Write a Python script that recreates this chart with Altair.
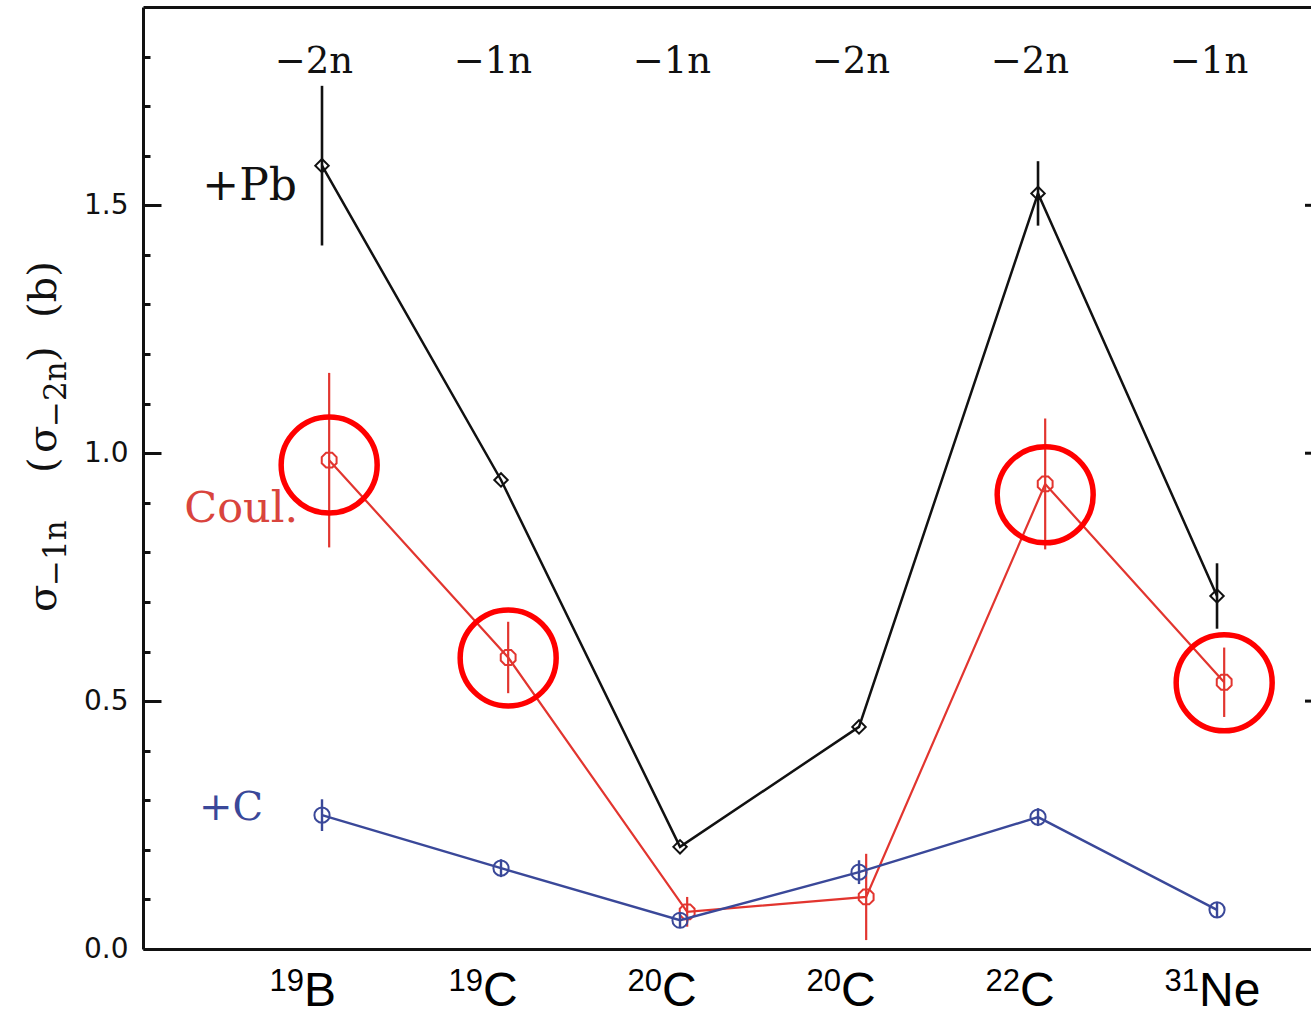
import altair as alt
import pandas as pd

# ---------------- data ----------------
categories   = ["19B", "19C", "20C", "20C", "22C", "31Ne"]
mass_numbers = ["19", "19", "20", "20", "22", "31"]
elements     = ["B", "C", "C", "C", "C", "Ne"]
channels     = ["−2n", "−1n", "−1n", "−2n", "−2n", "−1n"]

pb_values   = [1.580, 0.946, 0.206, 0.448, 1.524, 0.712]
pb_errors   = [0.161, 0.0, 0.0, 0.0, 0.065, 0.066]
coul_values = [0.986, 0.588, 0.075, 0.105, 0.938, 0.538]
coul_errors = [0.176, 0.072, 0.030, 0.087, 0.132, 0.070]
c_values    = [0.270, 0.163, 0.058, 0.155, 0.266, 0.079]
c_errors    = [0.032, 0.018, 0.015, 0.024, 0.018, 0.015]

circled        = [True, True, False, False, True, True]
circle_centers = [0.976, 0.587, 0.0, 0.0, 0.916, 0.537]

series_names = ["+Pb", "Coul.", "+C"]

y_tick_values  = [0.0, 0.1, 0.2, 0.3, 0.4, 0.5, 0.6, 0.7, 0.8, 0.9,
                  1.0, 1.1, 1.2, 1.3, 1.4, 1.5, 1.6, 1.7, 1.8]
y_label_values = [0.0, 0.5, 1.0, 1.5]
right_tick_values = [0.5, 1.0, 1.5]

# ---------------- styling ----------------
W, H = 1168, 942
COUL_SHIFT = 0.04
BLACK = "#111111"
RED = "#e2352f"
RED_TXT = "#d9443d"
BLUE = "#3a4899"
HL = "#ff0000"
SERIF = "DejaVu Serif"
SANS = "Liberation Sans"
OCTAGON = "M-0.4142,-1L0.4142,-1L1,-0.4142L1,0.4142L0.4142,1L-0.4142,1L-1,0.4142L-1,-0.4142Z"

idx = list(range(len(categories)))


def series_df(vals, errs, shift=0.0):
    return pd.DataFrame({
        "x": [i + shift for i in idx],
        "y": vals,
        "lo": [v - e for v, e in zip(vals, errs)],
        "hi": [v + e for v, e in zip(vals, errs)],
        "cat": categories,
    })


pb_df = series_df(pb_values, pb_errors)
coul_df = series_df(coul_values, coul_errors, COUL_SHIFT)
c_df = series_df(c_values, c_errors)
circ_df = pd.DataFrame({
    "x": [i + COUL_SHIFT for i in idx],
    "y": circle_centers,
    "circled": circled,
})
circ_df = circ_df[circ_df["circled"]]
lab_df = pd.DataFrame({"x": idx, "mass": mass_numbers, "elem": elements, "channel": channels})

xs = alt.Scale(domain=[-1, 5.525], nice=False, zero=False)
ys = alt.Scale(domain=[0, 1.9], nice=False, zero=False)

x_axis = alt.Axis(orient="bottom", domain=True, domainColor=BLACK, domainWidth=3,
                  ticks=False, labels=False, grid=False, title=None)
y_axis = alt.Axis(orient="left", domain=True, domainColor=BLACK, domainWidth=3,
                  ticks=False, grid=False, title=None, values=y_label_values,
                  format=".1f", labelFont="DejaVu Sans", labelFontSize=28,
                  labelColor=BLACK, labelPadding=15)

X = alt.X("x:Q", scale=xs, axis=x_axis)
Y = alt.Y("y:Q", scale=ys, axis=y_axis)


def series_layers(df, color, shape, size, lw, ew):
    base = alt.Chart(df)
    line = base.mark_line(color=color, strokeWidth=lw).encode(x=X, y=Y)
    err = base.mark_rule(color=color, strokeWidth=ew).encode(
        x=X, y=alt.Y("lo:Q", scale=ys, axis=y_axis), y2="hi:Q")
    pts = base.mark_point(shape=shape, size=size, filled=False, color=color,
                          strokeWidth=2, opacity=1).encode(x=X, y=Y)
    return [line, err, pts]


layers = []
layers += series_layers(pb_df, BLACK, "diamond", 180, 2.5, 2.6)
layers += series_layers(coul_df, RED, OCTAGON, 220, 2.2, 2.2)
layers += series_layers(c_df, BLUE, "circle", 230, 2.4, 2.4)

circles = alt.Chart(circ_df).mark_point(shape="circle", size=9216, filled=False,
                                        color=HL, strokeWidth=5.5, opacity=1).encode(x=X, y=Y)
layers.append(circles)

# top channel labels
layers.append(alt.Chart(lab_df).mark_text(font=SERIF, fontSize=37, color=BLACK,
                                          align="center", baseline="alphabetic", dx=-8)
              .encode(x=X, y=alt.value(66), text="channel:N"))
# nucleus labels (mass number as superscript)
layers.append(alt.Chart(lab_df).mark_text(font=SANS, fontSize=31, color="black",
                                          align="right", baseline="alphabetic", dx=-18)
              .encode(x=X, y=alt.value(H + 42), text="mass:N"))
layers.append(alt.Chart(lab_df).mark_text(font=SANS, fontSize=48, color="black",
                                          align="left", baseline="alphabetic", dx=-18)
              .encode(x=X, y=alt.value(H + 57), text="elem:N"))

# series labels anchored at first point of each series
lab_specs = [
    (pb_df.iloc[[0]].assign(t=series_names[0]), BLACK, 44, -25, 34),
    (coul_df.iloc[[0]].assign(t=series_names[1]), RED_TXT, 43, -31, 62),
    (c_df.iloc[[0]].assign(t=series_names[2]), BLUE, 40, -59, 5),
]
for d, col, fs, dx, dy in lab_specs:
    layers.append(alt.Chart(d).mark_text(font=SERIF, fontSize=fs, color=col, align="right",
                                         baseline="alphabetic", dx=dx, dy=dy)
                  .encode(x=X, y=Y, text="t:N"))

# right-side inner tick stubs
rt_df = pd.DataFrame({"y": right_tick_values})
layers.append(alt.Chart(rt_df).mark_rule(color=BLACK, strokeWidth=3).encode(
    y=Y, x=alt.value(W - 6), x2=alt.value(W)))

# rotated y-axis title composed from pieces (subscripts smaller and lowered)
title_pieces = ["σ", "−1n", "(", "σ", "−2n", ")", "(b)"]
title_sizes = [40, 31, 40, 40, 31, 40, 40]
title_along = [0, 26, 139, 159, 185, 250, 294]
title_lower = [0, 10, 0, 0, 10, 0, 0]
for t, fs, al, lo in zip(title_pieces, title_sizes, title_along, title_lower):
    layers.append(alt.Chart(pd.DataFrame({"t": [t]})).mark_text(
        font=SERIF, fontSize=fs, color=BLACK, angle=270, align="left", baseline="alphabetic")
        .encode(x=alt.value(-87 + lo), y=alt.value(605 - al), text="t:N"))

inner = alt.layer(*layers)

# frame layer: top border and inward ticks on the left edge
tick_axis = alt.Axis(orient="right", offset=-W, domain=False, labels=False, grid=False,
                     title=None, values=y_tick_values, ticks=True, tickColor=BLACK,
                     tickWidth=3,
                     tickSize={"condition": {"test": "round(datum.value*10) % 5 === 0", "value": 18},
                               "value": 7})
top_axis = alt.Axis(orient="top", domain=True, domainColor=BLACK, domainWidth=3,
                    ticks=False, labels=False, grid=False, title=None)
frame = alt.Chart(pb_df).mark_point(opacity=0).encode(
    x=alt.X("x:Q", scale=xs, axis=top_axis),
    y=alt.Y("y:Q", scale=ys, axis=tick_axis))

chart = alt.layer(frame, inner).resolve_axis(x="independent", y="independent").properties(
    width=W, height=H,
    padding={"left": 143, "top": 7, "right": 0, "bottom": 67},
    autosize=alt.AutoSizeParams(type="none"),
    background="white",
).configure_view(stroke=None)

chart.save("out.html", embed_options={"renderer": "svg", "actions": False})
